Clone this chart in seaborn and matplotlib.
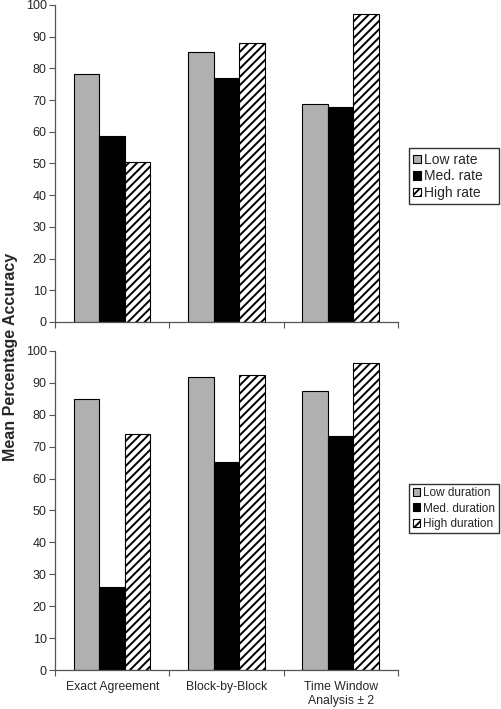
import pandas as pd
import seaborn as sns
import matplotlib.pyplot as plt

methods = ['Exact Agreement', 'Block-by-Block', 'Time Window\nAnalysis ± 2']

rate_groups = ['Low rate', 'Med. rate', 'High rate']
rate_low = [78.3, 85.3, 68.9]
rate_med = [58.7, 76.9, 67.8]
rate_high = [50.3, 88.0, 97.0]

dur_groups = ['Low duration', 'Med. duration', 'High duration']
dur_low = [85.0, 91.8, 87.5]
dur_med = [25.9, 65.3, 73.4]
dur_high = [74.1, 92.5, 96.2]

bar_colors = ['#b0b0b0', '#000000', '#ffffff']

sns.set_style('ticks')
plt.rcParams['font.family'] = ['Liberation Sans', 'DejaVu Sans']
plt.rcParams['hatch.linewidth'] = 1.4


def make_df(groups, series):
    rows = []
    for g, vals in zip(groups, series):
        for m, v in zip(methods, vals):
            rows.append({'method': m, 'group': g, 'acc': v})
    return pd.DataFrame(rows)


def draw_panel(ax, groups, series, show_labels, legend_y, legend_fs, hsize, lspace):
    df = make_df(groups, series)
    sns.barplot(data=df, x='method', y='acc', hue='group', order=methods,
                hue_order=groups, palette=bar_colors, edgecolor='black',
                linewidth=0.8, width=0.67, gap=0, ax=ax, legend=False)
    for bar in ax.containers[2]:
        bar.set_hatch('////')
    ax.set_ylim(0, 100)
    ax.set_yticks(range(0, 101, 10))
    ax.set_xlim(-0.5, 2.5)
    # tick marks sit between groups, labels centered under groups
    ax.set_xticks([-0.5, 0.5, 1.5, 2.5])
    ax.set_xticklabels([])
    ax.set_xticks([0, 1, 2], minor=True)
    if show_labels:
        ax.set_xticklabels(methods, minor=True)
    else:
        ax.set_xticklabels([], minor=True)
    ax.tick_params(axis='x', which='minor', length=0, pad=8, labelsize=8.8)
    ax.tick_params(axis='x', which='major', length=4, width=0.8, color='#555555')
    ax.tick_params(axis='y', length=4, width=0.8, color='#555555', labelsize=9, pad=2)
    ax.set_xlabel('')
    ax.set_ylabel('')
    sns.despine(ax=ax)
    for s in ['left', 'bottom']:
        ax.spines[s].set_color('#555555')
        ax.spines[s].set_linewidth(0.9)
    # legend handles taken from the drawn bars so the hatch carries over
    handles = [c.patches[0] for c in ax.containers]
    ax.legend(handles, groups, loc='center left',
              bbox_to_anchor=(1.033, legend_y, 0.262, 0), mode='expand',
              frameon=True, fancybox=False, edgecolor='black', fontsize=legend_fs,
              handlelength=hsize, handleheight=hsize, handletextpad=0.2,
              borderpad=0.3, labelspacing=lspace, borderaxespad=0)


fig = plt.figure(figsize=(5.01, 7.09), dpi=100)
ax1 = fig.add_axes([0.11, 0.546, 0.684, 0.447])
ax2 = fig.add_axes([0.11, 0.055, 0.684, 0.450])

draw_panel(ax1, rate_groups, [rate_low, rate_med, rate_high], False,
           0.459, 10, 0.55, 0.2)
draw_panel(ax2, dur_groups, [dur_low, dur_med, dur_high], True,
           0.506, 8.5, 0.65, 0.28)

fig.text(0.02, 0.496, 'Mean Percentage Accuracy', rotation=90, va='center',
         ha='center', fontsize=11.5, fontweight='bold')

fig.savefig('out.png', dpi=100)
